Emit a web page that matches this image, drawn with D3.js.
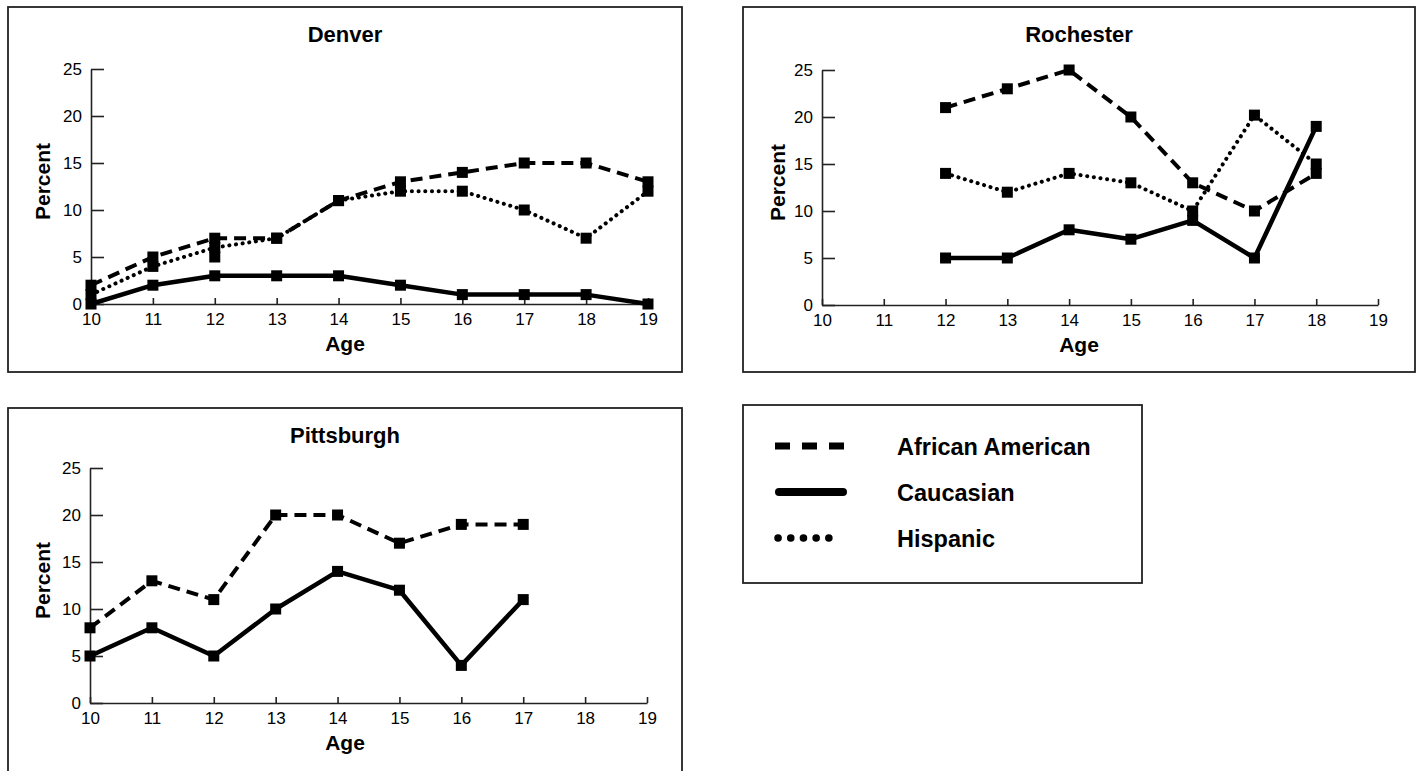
<!DOCTYPE html>
<html>
<head>
<meta charset="utf-8">
<script src="https://cdn.jsdelivr.net/npm/d3@7"></script>
<style>
  html, body { margin: 0; padding: 0; background: #fff; }
  svg { display: block; }
  text { font-family: "Liberation Sans", Arial, sans-serif; fill: #000; }
</style>
</head>
<body>
<svg id="chart" width="1424" height="771"></svg>
<script>
// ---- data ----
const yTicks = [0, 5, 10, 15, 20, 25];
const xTicks = [10, 11, 12, 13, 14, 15, 16, 17, 18, 19];
const seriesNames = ["African American", "Caucasian", "Hispanic"];

const denverAges = [10, 11, 12, 13, 14, 15, 16, 17, 18, 19];
const denverAfricanAmerican = [2, 5, 7, 7, 11, 13, 14, 15, 15, 13];
const denverCaucasian = [0, 2, 3, 3, 3, 2, 1, 1, 1, 0];
const denverHispanic = [1, 4, 6, 7, 11, 12, 12, 10, 7, 12];
const denverExtraMarkers = [[12, 5]];

const rochesterAges = [12, 13, 14, 15, 16, 17, 18];
const rochesterAfricanAmerican = [21, 23, 25, 20, 13, 10, 14];
const rochesterCaucasian = [5, 5, 8, 7, 9, 5, 19];
const rochesterHispanic = [14, 12, 14, 13, 10, 20.2, 15];

const pittsburghAges = [10, 11, 12, 13, 14, 15, 16, 17];
const pittsburghAfricanAmerican = [8, 13, 11, 20, 20, 17, 19, 19];
const pittsburghCaucasian = [5, 8, 5, 10, 14, 12, 4, 11];

// ---- styles ----
const styles = {
  "African American": { width: 4, dash: "12,7", cap: "butt" },
  "Caucasian": { width: 4.5, dash: null, cap: "round" },
  "Hispanic": { width: 4, dash: "0.1,6.6", cap: "round" }
};

const svg = d3.select("#chart");
const FONT = '"Liberation Sans", Arial, sans-serif';

function panel(cfg) {
  const g = svg.append("g");
  // frame
  g.append("rect")
    .attr("x", cfg.box[0]).attr("y", cfg.box[1])
    .attr("width", cfg.box[2] - cfg.box[0]).attr("height", cfg.box[3] - cfg.box[1])
    .attr("fill", "none").attr("stroke", "#222").attr("stroke-width", 1.8);

  const x = d3.scaleLinear().domain([10, 19]).range([cfg.plot[0], cfg.plot[2]]);
  const y = d3.scaleLinear().domain([0, 25]).range([cfg.plot[3], cfg.plot[1]]);

  // title
  const cx = (cfg.box[0] + cfg.box[2]) / 2;
  g.append("text").attr("x", cx).attr("y", cfg.box[1] + 35)
    .attr("text-anchor", "middle").attr("font-weight", "bold")
    .attr("font-size", 22).text(cfg.title);

  // y axis
  const ya = g.append("g").attr("transform", `translate(${cfg.plot[0]},0)`)
    .call(d3.axisLeft(y).tickValues(yTicks).tickSizeInner(-13).tickSizeOuter(0).tickPadding(9));
  // x axis
  const xa = g.append("g").attr("transform", `translate(0,${cfg.plot[3]})`)
    .call(d3.axisBottom(x).tickValues(xTicks).tickSizeInner(-6).tickSizeOuter(0).tickPadding(9));
  [ya, xa].forEach(a => {
    a.selectAll("path.domain").attr("stroke", "#222").attr("stroke-width", 1.6);
    a.selectAll(".tick line").attr("stroke", "#222").attr("stroke-width", 1.6);
    a.selectAll(".tick text").attr("font-size", 17).attr("font-family", FONT).attr("fill", "#000");
  });

  // axis titles
  g.append("text").attr("x", cx).attr("y", cfg.plot[3] + 47)
    .attr("text-anchor", "middle").attr("font-weight", "bold")
    .attr("font-size", 21).text("Age");
  const py = (cfg.plot[1] + cfg.plot[3]) / 2 - 5;
  g.append("text")
    .attr("transform", `translate(${cfg.box[0] + 35},${py}) rotate(-90)`)
    .attr("text-anchor", "middle").attr("dy", "0.35em").attr("font-weight", "bold")
    .attr("font-size", 21).text("Percent");

  const line = d3.line().x(d => x(d[0])).y(d => y(d[1]));

  cfg.series.forEach(s => {
    const st = styles[s.name];
    const pts = cfg.ages.map((a, i) => [a, s.values[i]]);
    g.append("path").datum(pts)
      .attr("d", line).attr("fill", "none").attr("stroke", "#000")
      .attr("stroke-width", st.width)
      .attr("stroke-dasharray", st.dash)
      .attr("stroke-linecap", st.cap)
      .attr("stroke-linejoin", "round");
  });
  const markers = [];
  cfg.series.forEach(s => cfg.ages.forEach((a, i) => markers.push([a, s.values[i]])));
  (cfg.extra || []).forEach(p => markers.push(p));
  g.selectAll("rect.mk").data(markers).enter().append("rect")
    .attr("class", "mk")
    .attr("x", d => x(d[0]) - 5.5).attr("y", d => y(d[1]) - 5.5)
    .attr("width", 11).attr("height", 11).attr("fill", "#000");
}

panel({
  title: "Denver", box: [8, 7, 682, 372], plot: [91, 69, 648, 304],
  ages: denverAges,
  series: [
    { name: "African American", values: denverAfricanAmerican },
    { name: "Caucasian", values: denverCaucasian },
    { name: "Hispanic", values: denverHispanic }
  ],
  extra: denverExtraMarkers
});

panel({
  title: "Rochester", box: [743, 7, 1415, 372], plot: [822, 70, 1378, 305],
  ages: rochesterAges,
  series: [
    { name: "African American", values: rochesterAfricanAmerican },
    { name: "Caucasian", values: rochesterCaucasian },
    { name: "Hispanic", values: rochesterHispanic }
  ]
});

panel({
  title: "Pittsburgh", box: [8, 408, 682, 775], plot: [90, 468, 647, 703],
  ages: pittsburghAges,
  series: [
    { name: "African American", values: pittsburghAfricanAmerican },
    { name: "Caucasian", values: pittsburghCaucasian }
  ]
});

// ---- legend ----
const lg = svg.append("g");
lg.append("rect").attr("x", 743).attr("y", 405).attr("width", 399).attr("height", 178)
  .attr("fill", "none").attr("stroke", "#222").attr("stroke-width", 1.8);
const legendStyles = {
  "African American": { width: 7, dash: "15,12", cap: "butt", x1: 775, x2: 844 },
  "Caucasian": { width: 8, dash: null, cap: "round", x1: 779, x2: 843 },
  "Hispanic": { width: 7.5, dash: "0.1,12.6", cap: "round", x1: 778, x2: 841 }
};
const legendY = d3.scalePoint().domain(seriesNames).range([446, 538]);
seriesNames.forEach(n => {
  const st = legendStyles[n];
  lg.append("line").attr("x1", st.x1).attr("x2", st.x2)
    .attr("y1", legendY(n)).attr("y2", legendY(n))
    .attr("stroke", "#000").attr("stroke-width", st.width)
    .attr("stroke-dasharray", st.dash).attr("stroke-linecap", st.cap);
  lg.append("text").attr("x", 897).attr("y", legendY(n) + 9)
    .attr("font-weight", "bold").attr("font-size", 23.5).text(n);
});
</script>
</body>
</html>
